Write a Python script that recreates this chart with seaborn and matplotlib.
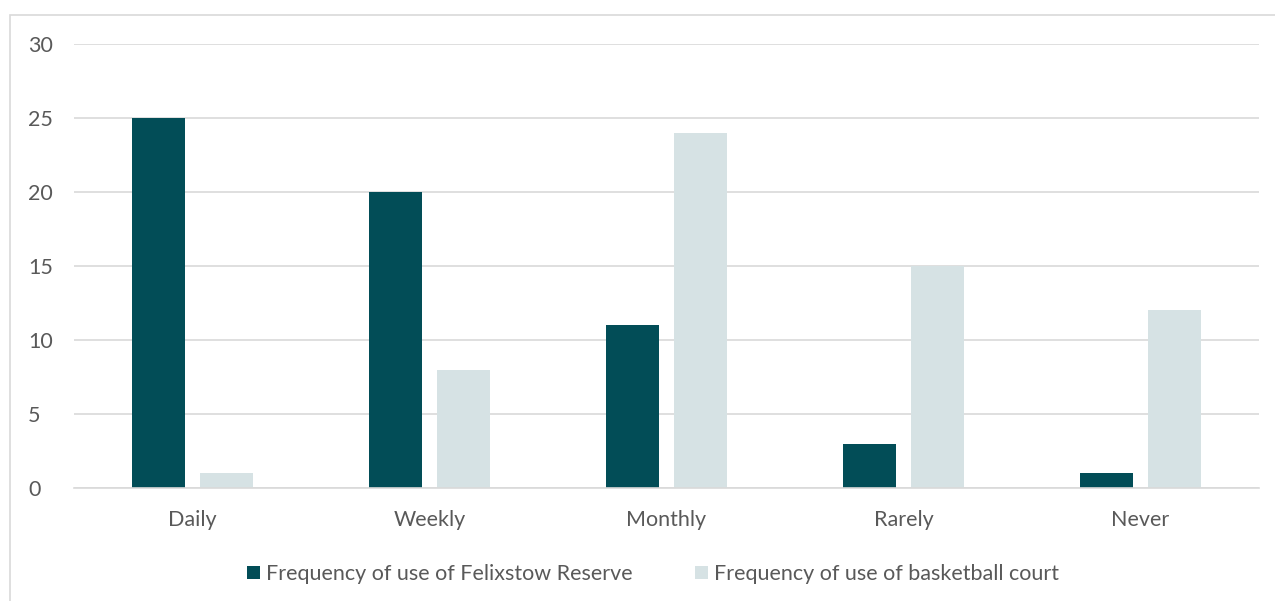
import matplotlib
matplotlib.use("Agg")
import matplotlib.pyplot as plt
from matplotlib.patches import Rectangle
import seaborn as sns
import pandas as pd

categories = ["Daily", "Weekly", "Monthly", "Rarely", "Never"]
reserve_use = [25, 20, 11, 3, 1]
court_use = [1, 8, 24, 15, 12]
series_names = ["Frequency of use of Felixstow Reserve",
                "Frequency of use of basketball court"]
y_ticks = [0, 5, 10, 15, 20, 25, 30]

df = pd.DataFrame({
    "category": categories * 2,
    "value": reserve_use + court_use,
    "series": [series_names[0]] * len(categories) + [series_names[1]] * len(categories),
})

sns.set_theme(style="white")
plt.rcParams["font.family"] = ["Lato", "DejaVu Sans"]

W, H, DPI = 1275, 601, 100
fig = plt.figure(figsize=(W / DPI, H / DPI), dpi=DPI)
ax = fig.add_axes([74 / W, 1 - 488 / H, (1259 - 74) / W, (488 - 44) / H])

palette = {series_names[0]: "#024D57", series_names[1]: "#D6E2E4"}
sns.barplot(data=df, x="category", y="value", hue="series", order=categories,
            hue_order=series_names, palette=palette, width=0.57, gap=0.21,
            saturation=1, linewidth=0, ax=ax, legend=True)

ax.set_ylim(0, 30)
ax.set_xlim(-0.5, len(categories) - 0.5)
ax.set_yticks(y_ticks)
ax.yaxis.grid(True, color="#D9D9D9", linewidth=1.2)
ax.set_axisbelow(True)
for side in ["top", "right", "left"]:
    ax.spines[side].set_visible(False)
ax.spines["bottom"].set_color("#D9D9D9")
ax.spines["bottom"].set_linewidth(1.2)
ax.set_xlabel("")
ax.set_ylabel("")
ax.tick_params(axis="both", length=0, labelsize=15.5, colors="#595959")
ax.tick_params(axis="x", pad=16)
ax.tick_params(axis="y", pad=33)
for lbl in ax.get_yticklabels():
    lbl.set_horizontalalignment("left")

handles, labels = ax.get_legend_handles_labels()
ax.legend_.remove()
fig.legend(handles, labels, loc="center", bbox_to_anchor=(653 / W, 1 - 574 / H),
           ncol=2, frameon=False, fontsize=15.5, labelcolor="#595959",
           handlelength=0.6, handleheight=0.6, handletextpad=0.3,
           columnspacing=2.9)

# light frame around the chart area
fig.patches.append(Rectangle((10 / W, -0.05), 1.2, 1 - 15 / H + 0.05,
                             transform=fig.transFigure, fill=False,
                             edgecolor="#D9D9D9", linewidth=1.2, zorder=0))

fig.savefig("out.png", dpi=DPI, facecolor="white")
